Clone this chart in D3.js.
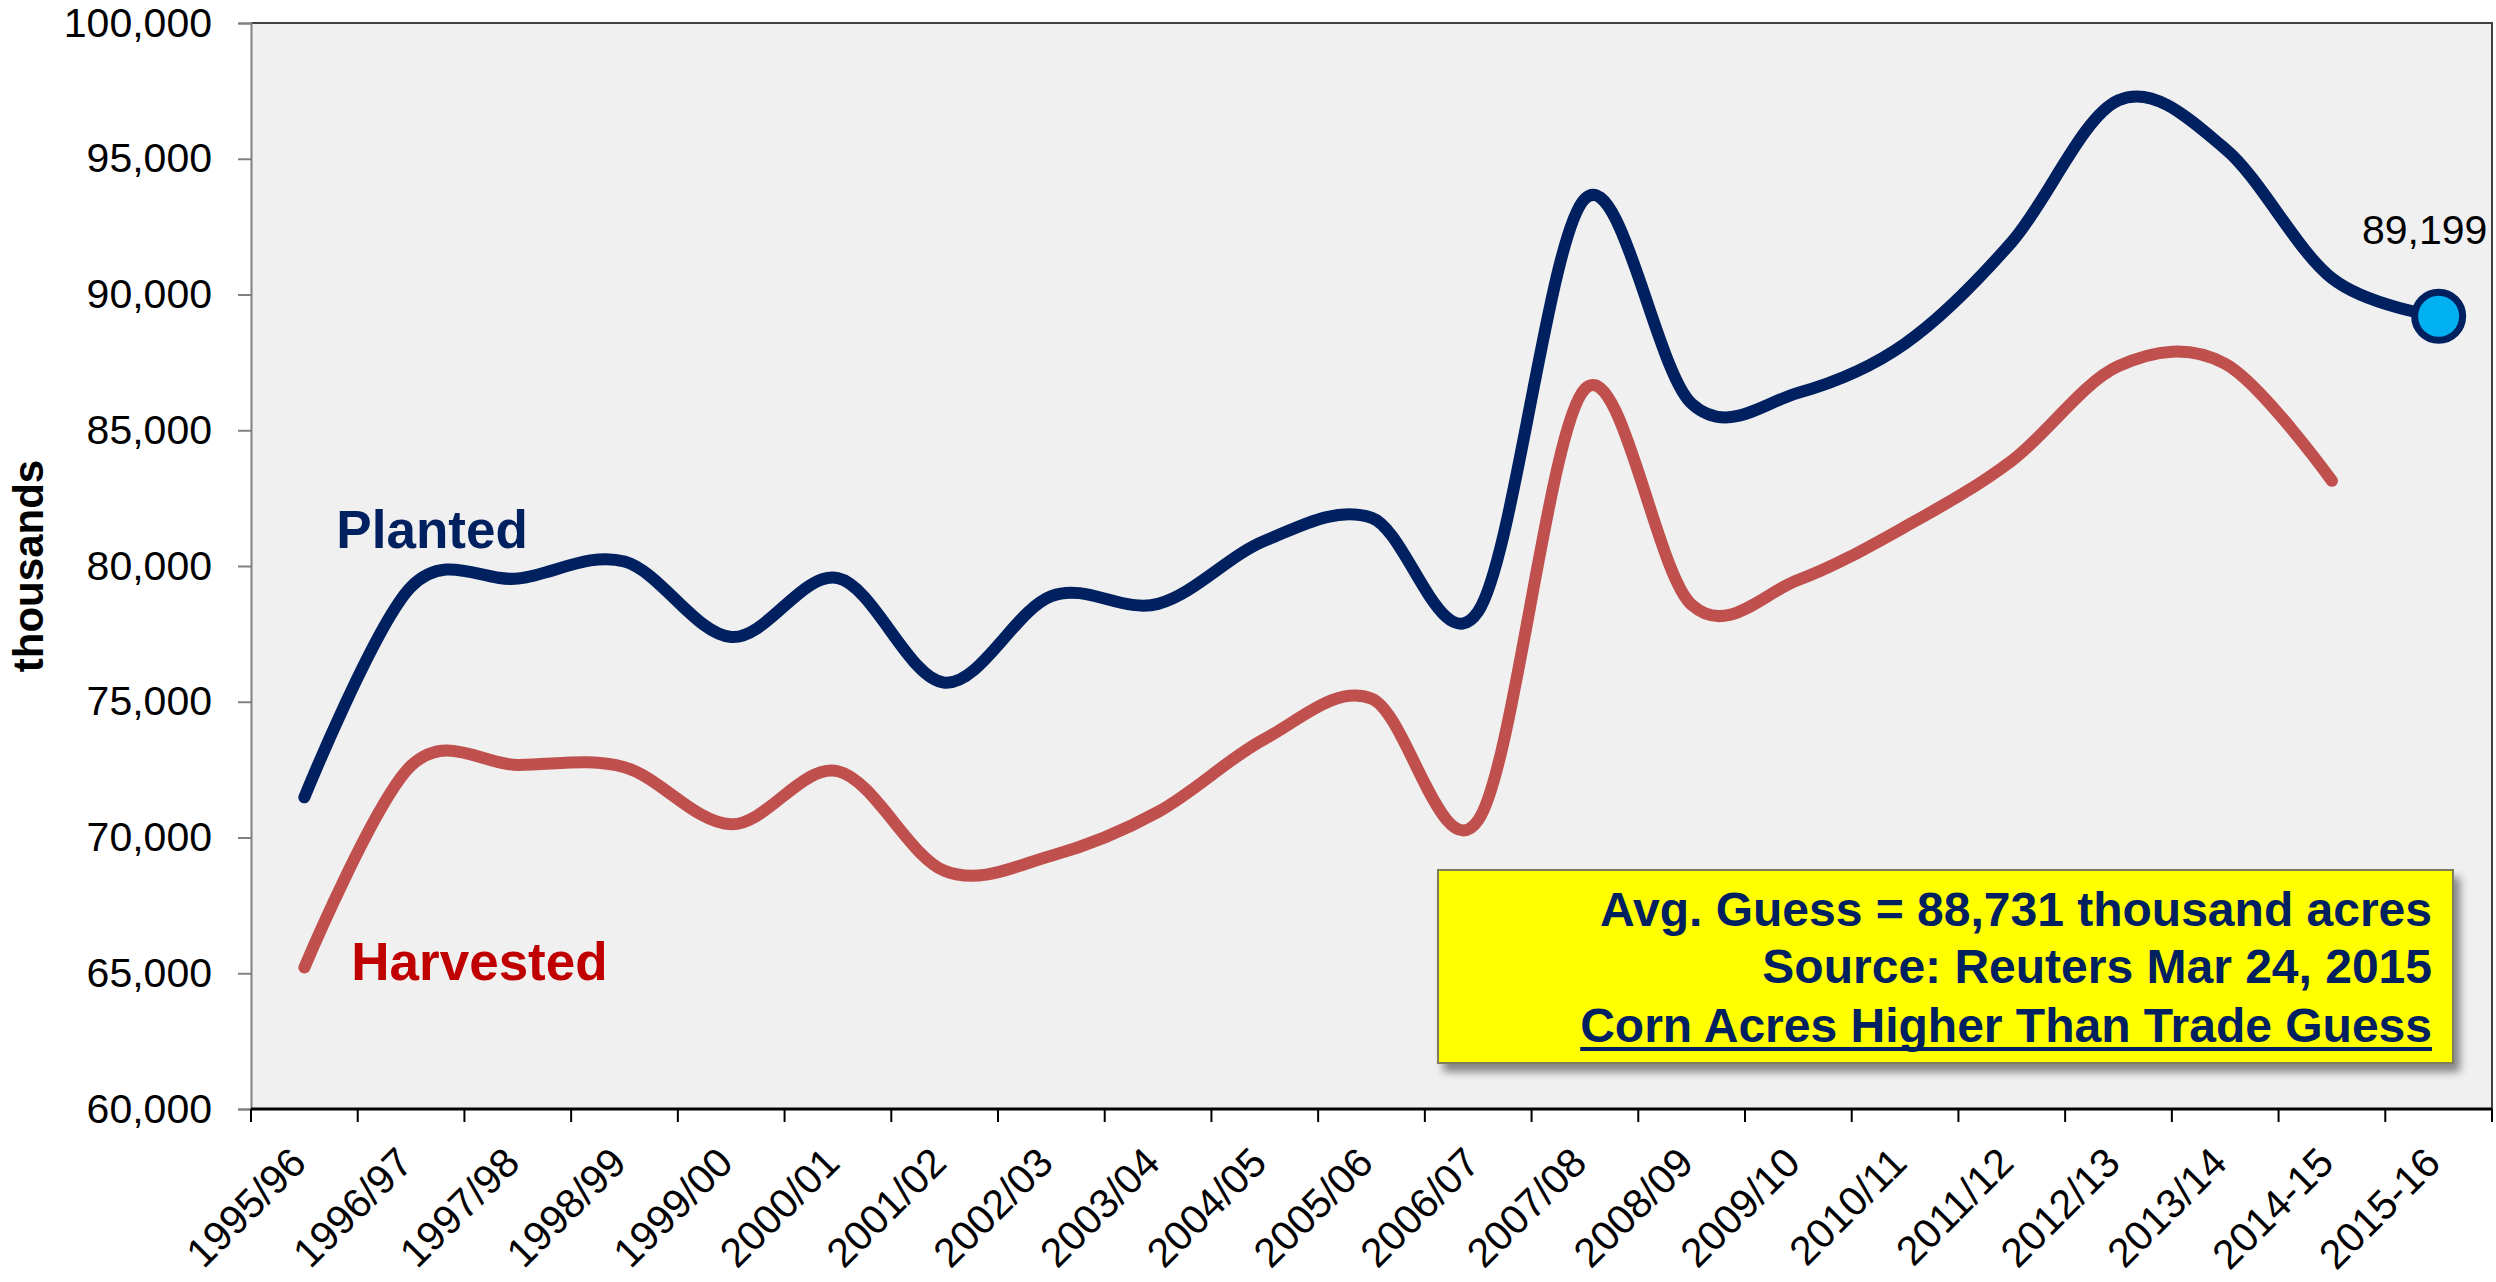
<!DOCTYPE html>
<html>
<head>
<meta charset="utf-8">
<script src="https://cdn.jsdelivr.net/npm/d3@7"></script>
<style>
  body { margin: 0; background: #fff; }
  text { font-family: Arial, "Liberation Sans", sans-serif; }
</style>
</head>
<body>
<div id="chart"></div>
<script>
// crop years on the x axis
var categories = ["1995/96", "1996/97", "1997/98", "1998/99", "1999/00", "2000/01", "2001/02",
  "2002/03", "2003/04", "2004/05", "2005/06", "2006/07", "2007/08", "2008/09", "2009/10",
  "2010/11", "2011/12", "2012/13", "2013/14", "2014-15", "2015-16"];

// corn acres, thousands
var planted = [71479, 79229, 79537, 80165, 77386, 79551, 75702, 78894, 78603, 80929, 81779,
  78327, 93527, 85982, 86382, 88192, 91936, 97155, 95365, 90597, 89199];
var harvested = [65210, 72644, 72671, 72589, 70487, 72440, 68768, 69330, 70944, 73631, 75117,
  70638, 86520, 78570, 79490, 81446, 83879, 87365, 87451, 83136];

var yTicks = [60000, 65000, 70000, 75000, 80000, 85000, 90000, 95000, 100000];
var boxLines = ["Avg. Guess = 88,731 thousand acres", "Source: Reuters Mar 24, 2015",
  "Corn Acres Higher Than Trade Guess"];

var W = 2496, H = 1282;
var margin = { top: 23, right: 4, bottom: 173, left: 251 };
var width = W - margin.left - margin.right,
    height = H - margin.top - margin.bottom;

var svg = d3.select("#chart").append("svg")
  .attr("width", W)
  .attr("height", H);

var defs = svg.append("defs");
var shadow = defs.append("filter").attr("id", "shadow")
  .attr("x", "-5%").attr("y", "-10%").attr("width", "115%").attr("height", "130%");
shadow.append("feDropShadow")
  .attr("dx", 6).attr("dy", 8).attr("stdDeviation", 4)
  .attr("flood-color", "#000").attr("flood-opacity", 0.45);

var g = svg.append("g").attr("transform", "translate(" + margin.left + "," + margin.top + ")");

var x = d3.scaleBand().domain(categories).range([0, width]).padding(0);
var y = d3.scaleLinear().domain([60000, 100000]).range([height, 0]);
var cx = function(i) { return x(categories[i]) + x.bandwidth() / 2; };

// plot area
g.append("rect")
  .attr("width", width).attr("height", height)
  .attr("fill", "#f0f0f0");
g.append("path")
  .attr("d", "M0,0H" + width + "V" + height)
  .attr("fill", "none").attr("stroke", "#404040").attr("stroke-width", 2);

// y axis
var yAxis = g.append("g")
  .call(d3.axisLeft(y).tickValues(yTicks).tickFormat(d3.format(",")).tickSize(13).tickPadding(26));
yAxis.select(".domain").attr("stroke", "#808080").attr("stroke-width", 2);
yAxis.selectAll(".tick line").attr("stroke", "#808080").attr("stroke-width", 2);
yAxis.selectAll(".tick text")
  .attr("font-size", 41).attr("fill", "#000")
  .style("font-family", "Arial, 'Liberation Sans', sans-serif");

// x axis: ticks on the category boundaries
var xAxis = g.append("g").attr("transform", "translate(0," + height + ")");
var bounds = categories.map(function(c) { return x(c); }).concat([width]);
xAxis.selectAll("line.tk").data(bounds).enter().append("line")
  .attr("class", "tk")
  .attr("x1", function(d) { return d; }).attr("x2", function(d) { return d; })
  .attr("y1", 0).attr("y2", 13)
  .attr("stroke", "#000").attr("stroke-width", 2);
xAxis.append("line")
  .attr("x1", 0).attr("x2", width)
  .attr("stroke", "#000").attr("stroke-width", 3);
xAxis.selectAll("text").data(categories).enter().append("text")
  .attr("transform", function(d, i) { return "translate(" + (cx(i) + 4) + ",56) rotate(-45)"; })
  .attr("text-anchor", "end")
  .attr("font-size", 41)
  .text(function(d) { return d; });

// y title
svg.append("text")
  .attr("transform", "translate(43," + (margin.top + height / 2) + ") rotate(-90)")
  .attr("text-anchor", "middle")
  .attr("font-size", 42).attr("font-weight", "bold")
  .text("thousands");

// lines
var line = d3.line()
  .x(function(d, i) { return cx(i); })
  .y(function(d) { return y(d); })
  .curve(d3.curveCardinal.tension(0));

g.append("path").datum(harvested)
  .attr("d", line)
  .attr("fill", "none").attr("stroke", "#c0504d").attr("stroke-width", 12)
  .attr("stroke-linecap", "round").attr("stroke-linejoin", "round");
g.append("path").datum(planted)
  .attr("d", line)
  .attr("fill", "none").attr("stroke", "#002060").attr("stroke-width", 12)
  .attr("stroke-linecap", "round").attr("stroke-linejoin", "round");

// last planted point
var last = planted.length - 1;
g.append("circle")
  .attr("cx", cx(last)).attr("cy", y(planted[last]))
  .attr("r", 24)
  .attr("fill", "#00b0f0").attr("stroke", "#002060").attr("stroke-width", 7);
g.append("text")
  .attr("x", cx(last) - 14).attr("y", y(planted[last]) - 72)
  .attr("text-anchor", "middle")
  .attr("font-size", 41)
  .text(d3.format(",")(planted[last]));

// series labels
var xi = d3.scaleLinear().domain([0, categories.length]).range([0, width]);
g.append("text")
  .attr("x", xi(0.8)).attr("y", y(80660))
  .attr("font-size", 53).attr("font-weight", "bold").attr("fill", "#002060")
  .text("Planted");
g.append("text")
  .attr("x", xi(0.94)).attr("y", y(64750))
  .attr("font-size", 53).attr("font-weight", "bold").attr("fill", "#c00000")
  .text("Harvested");

// yellow note box
var boxW = 1015, boxH = 193;
var box = g.append("g")
  .attr("transform", "translate(" + (width - 39 - boxW) + "," + (height - 46 - boxH) + ")");
box.append("rect")
  .attr("width", boxW).attr("height", boxH)
  .attr("fill", "#ffff00").attr("stroke", "#7f7f5f").attr("stroke-width", 2)
  .attr("filter", "url(#shadow)");
var baselines = [56, 113, 172];
box.selectAll("text").data(boxLines).enter().append("text")
  .attr("x", boxW - 21).attr("y", function(d, i) { return baselines[i]; })
  .attr("text-anchor", "end")
  .attr("font-size", 48).attr("font-weight", "bold").attr("fill", "#002060")
  .text(function(d) { return d; });
var lastText = box.selectAll("text").nodes()[2];
var len = lastText.getComputedTextLength();
box.append("rect")
  .attr("x", boxW - 21 - len).attr("y", 177)
  .attr("width", len).attr("height", 4)
  .attr("fill", "#002060");
</script>
</body>
</html>
